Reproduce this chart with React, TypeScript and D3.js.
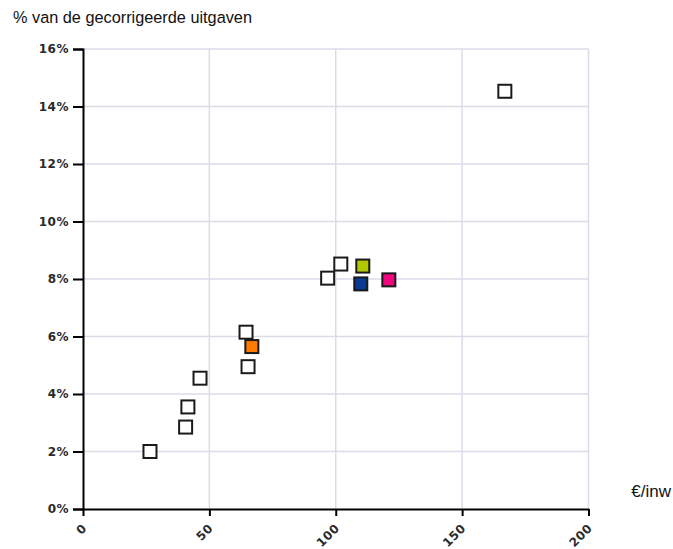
import { useEffect, useRef } from 'react';
import * as d3 from 'd3';

// uitgaven per inwoner (€) vs % van de gecorrigeerde uitgaven
const euroPerInw = [26.5, 40.6, 41.5, 46.3, 64.5, 65.3, 66.8, 96.8, 102, 110.7, 109.9, 121, 166.9];
const pctUitgaven = [2.0, 2.85, 3.55, 4.55, 6.15, 4.95, 5.65, 8.03, 8.52, 8.45, 7.83, 7.97, 14.53];
const fills = ['#ffffff', '#ffffff', '#ffffff', '#ffffff', '#ffffff', '#ffffff', '#ff7a00', '#ffffff', '#ffffff', '#b4c800', '#073b94', '#f2057f', '#ffffff'];

const xTicks = [0, 50, 100, 150, 200];
const yTicks = [0, 2, 4, 6, 8, 10, 12, 14, 16];

const W = 673;
const H = 549;

export default function App() {
  const svgRef = useRef<SVGSVGElement>(null);

  useEffect(() => {
    if (!svgRef.current) return;
    const svg = d3.select(svgRef.current);
    svg.selectAll('*').remove();

    const left = 83, right = 588.5, top = 49, bottom = 509;

    const x = d3.scaleLinear().domain([0, 200]).range([left, right]);
    const y = d3.scaleLinear().domain([0, 16]).range([bottom, top]);

    // gridlines
    const grid = svg.append('g');
    grid.selectAll('.hg')
      .data(yTicks.filter(d => d > 0))
      .enter().append('line')
      .attr('x1', left).attr('x2', right)
      .attr('y1', d => y(d)).attr('y2', d => y(d))
      .attr('stroke', '#dcdbe8').attr('stroke-width', 1.5);
    grid.selectAll('.vg')
      .data(xTicks.filter(d => d > 0))
      .enter().append('line')
      .attr('y1', top).attr('y2', bottom)
      .attr('x1', d => x(d)).attr('x2', d => x(d))
      .attr('stroke', '#dcdbe8').attr('stroke-width', 1.5);

    const tickFont = (sel: any) => sel
      .attr('font-family', 'DejaVu Sans, sans-serif')
      .attr('font-weight', 'bold')
      .attr('font-size', 12)
      .attr('letter-spacing', 0.5)
      .attr('fill', '#2a2a2a');

    // y axis
    const yAxis = svg.append('g')
      .attr('transform', `translate(${left},0)`)
      .call(d3.axisLeft(y).tickValues(yTicks).tickSize(10).tickPadding(4).tickFormat(d => `${d}%`));
    yAxis.select('.domain').attr('stroke', '#000').attr('stroke-width', 2);
    yAxis.selectAll('line').attr('stroke', '#000').attr('stroke-width', 2);
    tickFont(yAxis.selectAll('text'));

    // x axis
    const xAxis = svg.append('g')
      .attr('transform', `translate(0,${bottom})`)
      .call(d3.axisBottom(x).tickValues(xTicks).tickSize(7).tickSizeOuter(0));
    xAxis.select('.domain').attr('stroke', '#000').attr('stroke-width', 2);
    xAxis.selectAll('line').attr('stroke', '#000').attr('stroke-width', 2);
    tickFont(xAxis.selectAll('text'))
      .attr('text-anchor', 'end')
      .attr('x', 0)
      .attr('y', 0)
      .attr('dy', 0)
      .attr('transform', 'translate(4,20) rotate(-45)');

    // points
    const pts = euroPerInw.map((v, i) => ({ x: v, y: pctUitgaven[i], fill: fills[i] }));
    svg.append('g')
      .selectAll('rect')
      .data(pts)
      .enter().append('rect')
      .attr('x', d => x(d.x) - 6.5)
      .attr('y', d => y(d.y) - 6.5)
      .attr('width', 13)
      .attr('height', 13)
      .attr('fill', d => d.fill)
      .attr('stroke', '#1a1a1a')
      .attr('stroke-width', 2);

    // labels
    svg.append('text')
      .attr('x', 13).attr('y', 23)
      .attr('font-family', 'Liberation Sans, Arial, sans-serif')
      .attr('font-size', 16.3)
      .attr('fill', '#111')
      .text('% van de gecorrigeerde uitgaven');

    svg.append('text')
      .attr('x', 671).attr('y', 497)
      .attr('text-anchor', 'end')
      .attr('font-family', 'Liberation Sans, Arial, sans-serif')
      .attr('font-size', 17)
      .attr('fill', '#111')
      .text('€/inw');
  }, []);

  return (
    <svg
      ref={svgRef}
      width={W}
      height={H}
      style={{ position: 'absolute', left: 0, top: 0, background: '#fff' }}
    />
  );
}
